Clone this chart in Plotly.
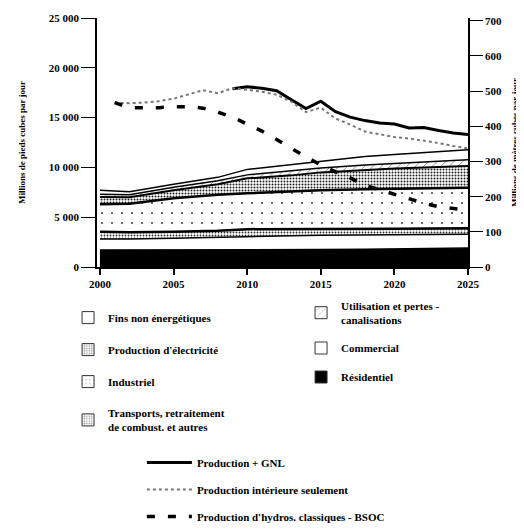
import plotly.graph_objects as go

# ---- Data ----
years_stack = [2000, 2002, 2005, 2008, 2010, 2013, 2015, 2018, 2020, 2025]

residentiel = [1700, 1700, 1720, 1740, 1760, 1750, 1750, 1780, 1800, 1900]
commercial = [1100, 1100, 1160, 1260, 1340, 1400, 1450, 1470, 1470, 1400]
transports = [730, 700, 670, 650, 700, 650, 600, 580, 580, 600]
industriel = [2770, 2850, 3350, 3600, 3600, 3800, 3900, 3970, 4000, 4050]
electricite = [730, 650, 800, 1050, 1500, 1600, 1800, 1950, 2050, 2180]
utilisation = [270, 250, 300, 350, 350, 450, 450, 500, 500, 640]
fins_non_energ = [400, 300, 300, 350, 550, 650, 650, 850, 900, 1000]

years_gnl = list(range(2009, 2026))
production_gnl = [17900, 18100, 17950, 17700, 16800, 15900, 16650, 15600, 15050,
                  14700, 14450, 14350, 13950, 14000, 13700, 13450, 13300]

years_dom = list(range(2001, 2026))
production_interieure = [16500, 16450, 16500, 16650, 16900, 17300, 17750, 17450, 17950,
                         17800, 17600, 17300, 16600, 15550, 16000, 14900, 14300, 13600,
                         13300, 13050, 12900, 12700, 12450, 12150, 11900]

years_bsoc = list(range(2001, 2026))
production_bsoc = [16500, 16000, 16000, 16000, 16100, 16100, 15950, 15550, 15050,
                   14380, 13650, 12800, 11900, 11050, 10250, 9550, 8950, 8200,
                   7750, 7300, 6800, 6400, 6050, 5850, 5700]

x_ticks = [2000, 2005, 2010, 2015, 2020, 2025]
M3_PER_FT3 = 0.0283168

# ---- Styles ----
FONT = "Liberation Serif"
styles = {
    "Résidentiel": dict(fill="black", pattern=None, lw=1.5),
    "Commercial": dict(fill="white", pattern=None, lw=1.5),
    "Transports": dict(fill="white", pattern=dict(shape=".", size=3, solidity=0.3,
                                                   fgcolor="#333", bgcolor="white", fillmode="replace"), lw=2.5),
    "Industriel": dict(fill="white", pattern=dict(shape=".", size=10, solidity=0.035,
                                                   fgcolor="#444", bgcolor="white", fillmode="replace"), lw=2.5),
    "Électricité": dict(fill="white", pattern=dict(shape=".", size=3, solidity=0.35,
                                                    fgcolor="#222", bgcolor="white", fillmode="replace"), lw=2),
    "Utilisation": dict(fill="white", pattern=dict(shape="/", size=6, solidity=0.12,
                                                    fgcolor="#666", bgcolor="white", fillmode="replace"), lw=1.5),
    "Fins": dict(fill="white", pattern=None, lw=1.5),
}

layers = [
    ("Résidentiel", "Résidentiel", residentiel, "legend2"),
    ("Commercial", "Commercial", commercial, "legend2"),
    ("Transports", "Transports, retraitement<br>de combust. et autres", transports, "legend"),
    ("Industriel", "Industriel", industriel, "legend"),
    ("Électricité", "Production d'électricité", electricite, "legend"),
    ("Utilisation", "Utilisation et pertes -<br>canalisations", utilisation, "legend2"),
    ("Fins", "Fins non énergétiques", fins_non_energ, "legend"),
]

fig = go.Figure()

for key, label, vals, _ in layers:
    st = styles[key]
    kw = dict(fillcolor=st["fill"])
    if st["pattern"]:
        kw["fillpattern"] = st["pattern"]
    fig.add_trace(go.Scatter(
        x=years_stack, y=vals, stackgroup="one", mode="lines",
        line=dict(color="black", width=st["lw"]), showlegend=False,
        hoverinfo="skip", **kw))

# legend proxies (square swatches), in top-down legend order
legend_order = ["Fins", "Électricité", "Industriel", "Transports", "Utilisation", "Commercial", "Résidentiel"]
lookup = {k: (lab, lg) for k, lab, _, lg in layers}
for key in legend_order:
    lab, lg = lookup[key]
    st = styles[key]
    marker = dict(color=st["fill"], line=dict(color="#333", width=1))
    if st["pattern"]:
        p = dict(st["pattern"])
        p.pop("fillmode", None)
        if p["shape"] == "." and p["size"] > 6:
            p["size"] = 5
            p["solidity"] = 0.08
        marker["pattern"] = p
    fig.add_trace(go.Bar(x=[None], y=[None], name=lab, marker=marker,
                         legend=lg, legendgroup=key, showlegend=True))

# production lines
fig.add_trace(go.Scatter(x=years_gnl, y=production_gnl, mode="lines", name="Production + GNL",
                         line=dict(color="black", width=3), legend="legend3", legendgroup="l1"))
fig.add_trace(go.Scatter(x=years_dom, y=production_interieure, mode="lines",
                         name="Production intérieure seulement",
                         line=dict(color="#777", width=2, dash="dot"), legend="legend3", legendgroup="l2"))
fig.add_trace(go.Scatter(x=years_bsoc, y=production_bsoc, mode="lines",
                         name="Production d'hydros. classiques - BSOC",
                         line=dict(color="black", width=3.5, dash="8px,13px"), legend="legend3", legendgroup="l3"))

# empty trace so the right-hand (m³) axis is drawn
fig.add_trace(go.Scatter(x=[None], y=[None], yaxis="y2", showlegend=False, hoverinfo="skip"))

ymax = 25000
fig.update_layout(
    width=516, height=523,
    margin=dict(l=89, r=56, t=10, b=264, autoexpand=False),
    paper_bgcolor="white", plot_bgcolor="white",
    font=dict(family=FONT, size=11, color="black", weight="bold"),
    separators=", ",
    showlegend=True,
    xaxis=dict(range=[1999.8, 2025], tickvals=x_ticks, ticks="outside", ticklen=6,
               tickwidth=1.5, tickcolor="black", showline=True, linecolor="black",
               linewidth=1.5, showgrid=False, zeroline=False),
    yaxis=dict(range=[0, ymax], dtick=5000, tickformat=",d", ticks="outside", ticklen=14,
               tickwidth=1.2, tickcolor="black", showline=True, linecolor="black",
               linewidth=1.5, showgrid=False, zeroline=False,
               title=dict(text="Millions de pieds cubes par jour", font=dict(size=9), standoff=22)),
    yaxis2=dict(overlaying="y", side="right", anchor="x", range=[0, ymax * M3_PER_FT3],
                dtick=100, ticks="outside", ticklen=13, tickwidth=1.2, tickcolor="black",
                showline=True, linecolor="black", linewidth=1.5, showgrid=False, zeroline=False,
                title=dict(text="Millions de mètres cubes par jour", font=dict(size=9), standoff=11)),
    legend=dict(x=-0.078, y=-0.145, xanchor="left", yanchor="top", traceorder="grouped",
                tracegroupgap=13, bgcolor="rgba(0,0,0,0)", font=dict(size=11)),
    legend2=dict(x=0.550, y=-0.100, xanchor="left", yanchor="top", traceorder="grouped",
                 tracegroupgap=10, bgcolor="rgba(0,0,0,0)", font=dict(size=11)),
    legend3=dict(x=0.121, y=-0.727, xanchor="left", yanchor="top", traceorder="grouped",
                 tracegroupgap=8, bgcolor="rgba(0,0,0,0)", font=dict(size=11), itemwidth=45),
)

fig.write_html("out.html")
